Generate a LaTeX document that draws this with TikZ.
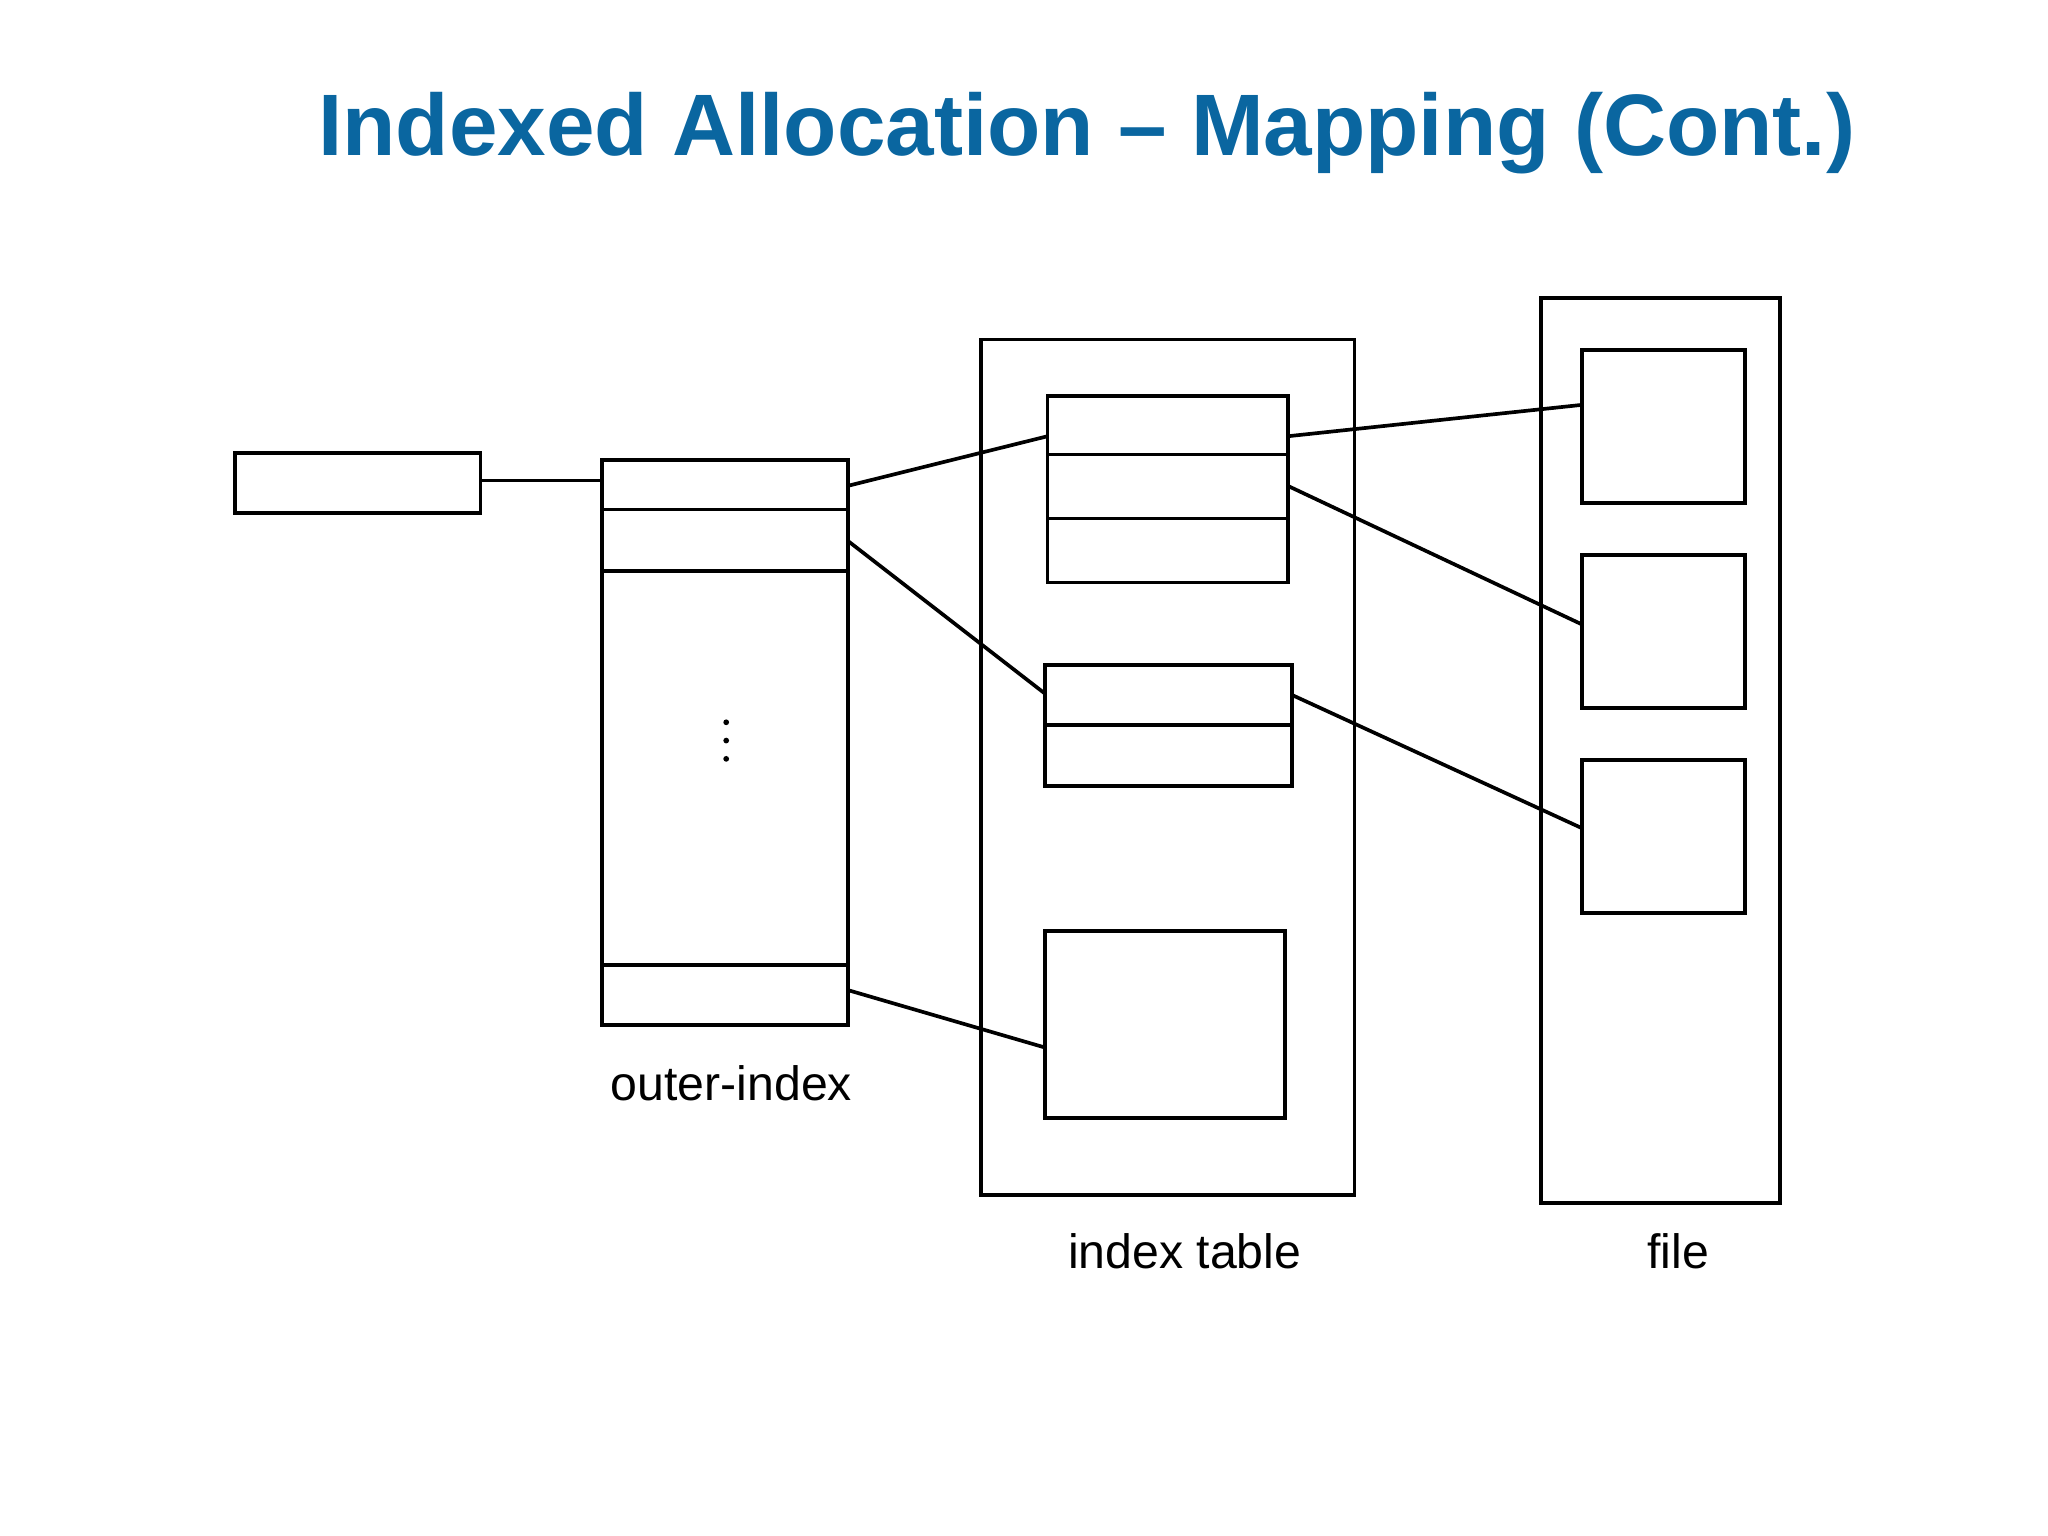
\documentclass[tikz,border=0pt]{standalone}
\usepackage{fontspec}
\setmainfont{Liberation Sans}
\definecolor{titleblue}{HTML}{0A66A0}
\begin{document}
\begin{tikzpicture}[x=0.01cm,y=-0.01cm,line width=0.8pt,
  box/.style={draw,black},
  lbl/.style={font=\fontsize{10.5pt}{12pt}\selectfont}]
\useasboundingbox (0,0) rectangle (1568,1176);
\node[font=\bfseries\fontsize{19pt}{22pt}\selectfont,text=titleblue] (title) at (832,102) {Indexed Allocation -- Mapping (Cont.)};
% left pointer box
\draw[box] (180,347) rectangle (368,393);
\coordinate (lp) at (368,368);
% outer index
\draw[box] (461,352) rectangle (649,785);
\draw (461,390) -- (649,390) (461,437) -- (649,437) (461,739) -- (649,739);
\foreach \yy in {553,567,581} \fill (556,\yy) circle (2.2);
\coordinate (oi0) at (461,368);
\coordinate (oi1) at (649,372);
\coordinate (oi2) at (649,414);
\coordinate (oin) at (649,758);
\node[lbl] (ol) at (560,829) {outer-index};
% index table
\draw[box] (751,260) rectangle (1037,915);
\draw[box] (802,303) rectangle (986,446);
\draw (802,348) -- (986,348) (802,397) -- (986,397);
\draw[box] (800,509) rectangle (989,602);
\draw (800,555) -- (989,555);
\draw[box] (800,713) rectangle (984,856);
\coordinate (b1w) at (802,334);
\coordinate (b2w) at (800,531);
\coordinate (b3w) at (800,802);
\coordinate (b1e1) at (986,334);
\coordinate (b1e2) at (986,372);
\coordinate (b2e1) at (989,532);
\node[lbl] (il) at (907,958) {index table};
% file
\draw[box] (1180,228) rectangle (1363,921);
\draw[box] (1211,268) rectangle (1336,385);
\draw[box] (1211,425) rectangle (1336,542);
\draw[box] (1211,582) rectangle (1336,699);
\coordinate (f1) at (1211,310);
\coordinate (f2) at (1211,478);
\coordinate (f3) at (1211,634);
\node[lbl] (fl) at (1285,958) {file};
% connectors
\draw (lp) -- (oi0);
\draw (oi1) -- (b1w);
\draw (oi2) -- (b2w);
\draw (oin) -- (b3w);
\draw (b1e1) -- (f1);
\draw (b1e2) -- (f2);
\draw (b2e1) -- (f3);
\end{tikzpicture}
\end{document}
